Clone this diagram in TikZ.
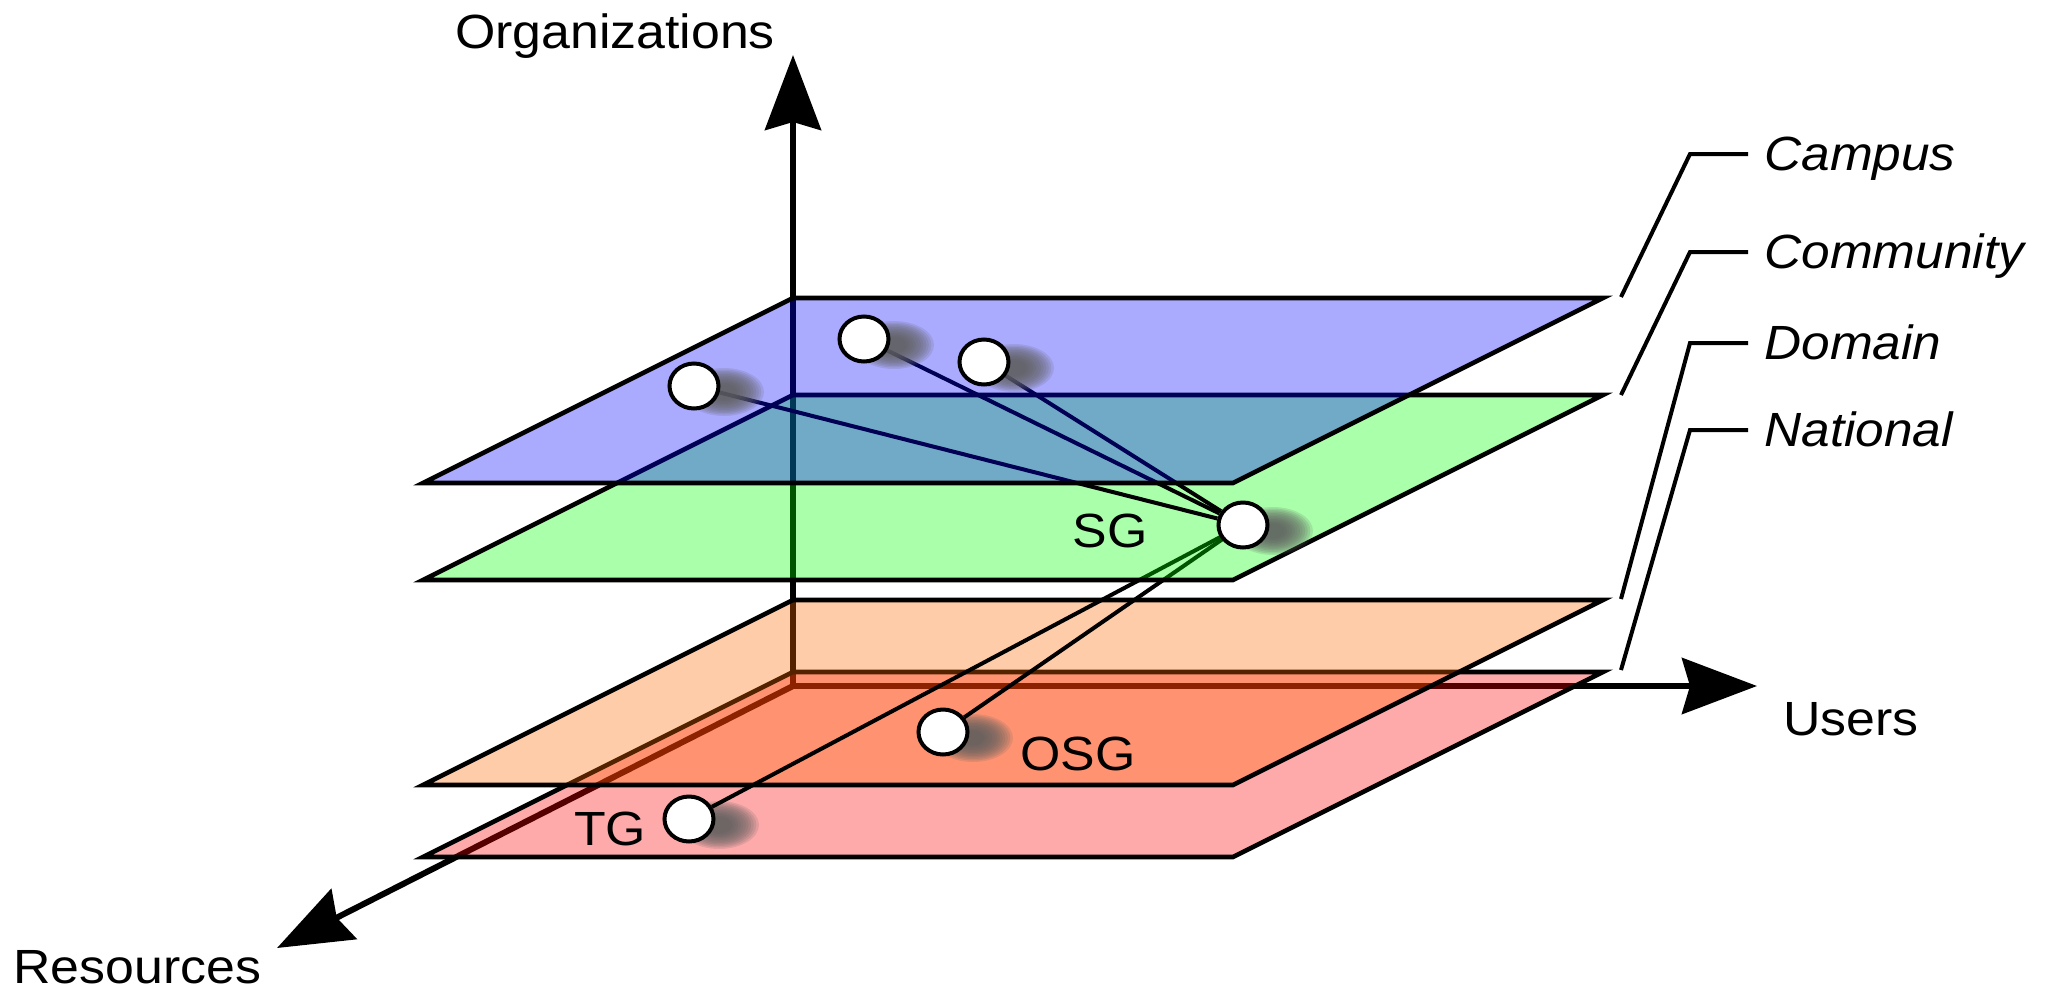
\documentclass[tikz,border=0pt]{standalone}
\usepackage{fontspec}
\setmainfont{Liberation Sans}
\usetikzlibrary{arrows.meta,shapes.geometric}
\definecolor{cblue}{RGB}{0,0,255}
\definecolor{cgreen}{RGB}{0,255,0}
\definecolor{corange}{RGB}{255,102,0}
\definecolor{cred}{RGB}{255,0,0}
\definecolor{shadowgrey}{RGB}{95,95,95}
\newcommand\layerplane[2]{%
  \filldraw[plane, fill=#2] (793,#1) -- (1603,#1) -- (1233,{#1+185}) -- (423,{#1+185}) -- cycle;}
\begin{document}
\begin{tikzpicture}[x=0.5pt,y=-0.5pt,
  plane/.style={draw=black, line width=2.3pt, fill opacity=0.333},
  axis/.style={line width=3pt, -{Stealth[length=37.5pt,width=28pt,inset=4pt]}},
  link/.style={line width=2pt},
  leader/.style={line width=2pt},
  gnode/.style={ellipse, draw=black, line width=2pt, fill=white, minimum width=24.5pt, minimum height=22.5pt, inner sep=0pt},
  ghost/.style={ellipse, minimum width=24.5pt, minimum height=22.5pt, inner sep=0pt},
  lbl/.style={font=\fontsize{24}{28}\selectfont, xscale=1.08, inner sep=0pt},
  ilbl/.style={font=\fontsize{24}{28}\selectfont\itshape, xscale=1.07, inner sep=0pt},
  blob/.pic={\foreach \i in {0,...,11}{\fill[shadowgrey, opacity=0.17] (0,0) ellipse [x radius={40-2.6*\i}, y radius={24-1.5*\i}];}}
]
\useasboundingbox (0,0) rectangle (2063,997);

% axes
\coordinate (O) at (793,686);
\coordinate (orgtip) at (793,55);
\coordinate (usrtip) at (1757,686);
\coordinate (restip) at (277,948);
\draw[axis] (O) -- (orgtip);
\draw[axis] (O) -- (usrtip);
\draw[axis] (O) -- (restip);

% lower planes
\layerplane{672}{cred}
\layerplane{600}{corange}

% national / domain grids
\node[ghost] (sg0) at (1243,525) {};
\pic at (719,825) {blob};
\pic at (973,738) {blob};
\node[gnode] (TG) at (689,819) {};
\node[gnode] (OSG) at (943,732) {};
\draw[link] (TG) -- (sg0);
\draw[link] (OSG) -- (sg0);

% community plane
\layerplane{395}{cgreen}
\pic at (1273,531) {blob};
\node[gnode] (SG) at (1243,525) {};

% campus links
\node[ghost] (a0) at (694,386) {};
\node[ghost] (b0) at (864,339) {};
\node[ghost] (c0) at (984,362) {};
\draw[link] (a0) -- (SG);
\draw[link] (b0) -- (SG);
\draw[link] (c0) -- (SG);

% campus plane
\layerplane{298}{cblue}
\pic at (724,392) {blob};
\pic at (894,345) {blob};
\pic at (1014,368) {blob};
\node[gnode] (A) at (694,386) {};
\node[gnode] (B) at (864,339) {};
\node[gnode] (C) at (984,362) {};

% grid labels
\node[lbl, anchor=base] (sglbl) at (1110,547) {SG};
\node[lbl, anchor=base] (osglbl) at (1078,770) {OSG};
\node[lbl, anchor=base] (tglbl) at (610,845) {TG};

% axis labels
\node[lbl, anchor=base] (orglbl) at (615,48) {Organizations};
\node[lbl, anchor=base west] (usrlbl) at (1783,735) {Users};
\node[lbl, anchor=base west] (reslbl) at (13,983) {Resources};

% level labels and leaders
\node[ilbl, anchor=base west] (campus) at (1764,170) {Campus};
\node[ilbl, anchor=base west] (community) at (1764,268) {Community};
\node[ilbl, anchor=base west] (domain) at (1764,359) {Domain};
\node[ilbl, anchor=base west] (national) at (1764,446) {National};

\coordinate (l1a) at (1621,297); \coordinate (l1b) at (1690,154); \coordinate (l1c) at (1748,154);
\coordinate (l2a) at (1621,395); \coordinate (l2b) at (1690,252); \coordinate (l2c) at (1748,252);
\coordinate (l3a) at (1621,599); \coordinate (l3b) at (1690,343); \coordinate (l3c) at (1748,343);
\coordinate (l4a) at (1621,670); \coordinate (l4b) at (1690,430); \coordinate (l4c) at (1748,430);
\draw[leader] (l1a) -- (l1b) -- (l1c);
\draw[leader] (l2a) -- (l2b) -- (l2c);
\draw[leader] (l3a) -- (l3b) -- (l3c);
\draw[leader] (l4a) -- (l4b) -- (l4c);
\end{tikzpicture}
\end{document}
